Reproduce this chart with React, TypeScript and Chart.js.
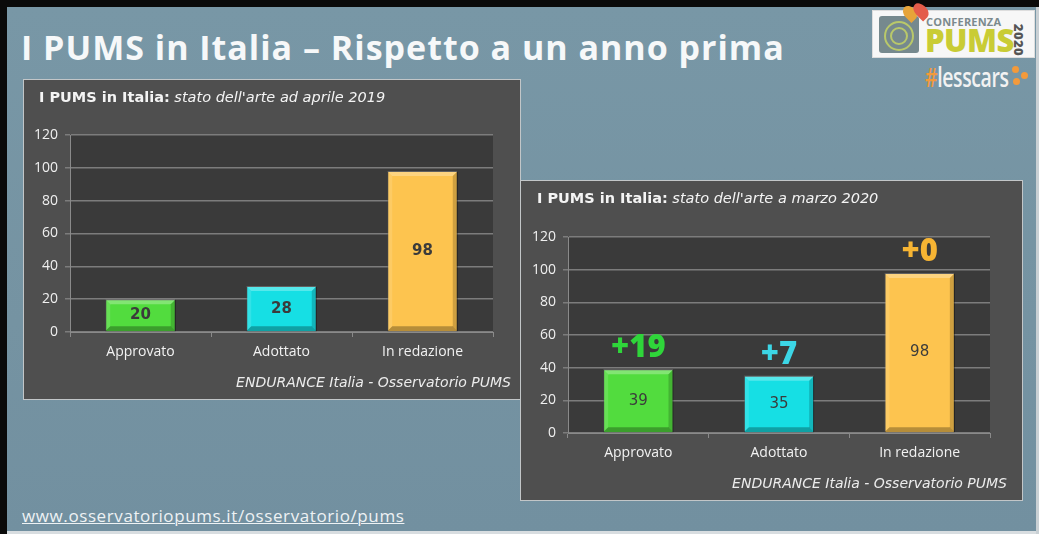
import React, { useEffect, useRef } from "react";
import { Chart, registerables } from "chart.js";

Chart.register(...registerables);

const categories = ["Approvato", "Adottato", "In redazione"];
const values2019 = [20, 28, 98];
const values2020 = [39, 35, 98];
const deltas2020 = ["+19", "+7", "+0"];
const yMin = 0;
const yMax = 120;
const yStep = 20;

const barColors = ["#52dc3e", "#16dfe4", "#fdc44f"];
const deltaColors = ["#2fd53a", "#3cd6e6", "#f6b433"];

const FONT = "'Open Sans', sans-serif";
const DV = "'DejaVu Sans', sans-serif";

type Geo = {
  yWidth: number;
  xHeight: number;
  padTop: number;
  padRight: number;
};

function bevelPlugin(valueFont: string, deltas?: string[]) {
  return {
    id: "bevel",
    beforeDraw(chart: any) {
      const { ctx, chartArea } = chart;
      ctx.save();
      ctx.fillStyle = "#3a3a3a";
      ctx.fillRect(chartArea.left, chartArea.top, chartArea.right - chartArea.left, chartArea.bottom - chartArea.top);
      ctx.restore();
    },
    afterDatasetsDraw(chart: any) {
      const { ctx } = chart;
      const meta = chart.getDatasetMeta(0);
      meta.data.forEach((el: any, i: number) => {
        const p = el.getProps(["x", "y", "base", "width"], true);
        const l = p.x - p.width / 2;
        const r = p.x + p.width / 2;
        const t = p.y;
        const b = p.base;
        const s = 5;
        ctx.save();
        ctx.fillStyle = "rgba(255,255,255,0.28)";
        ctx.beginPath();
        ctx.moveTo(l, t);
        ctx.lineTo(r, t);
        ctx.lineTo(r - s, t + s);
        ctx.lineTo(l + s, t + s);
        ctx.closePath();
        ctx.fill();
        ctx.fillStyle = "rgba(255,255,255,0.12)";
        ctx.beginPath();
        ctx.moveTo(l, t);
        ctx.lineTo(l + s, t + s);
        ctx.lineTo(l + s, b - s);
        ctx.lineTo(l, b);
        ctx.closePath();
        ctx.fill();
        ctx.fillStyle = "rgba(0,0,0,0.18)";
        ctx.beginPath();
        ctx.moveTo(r, t);
        ctx.lineTo(r - s, t + s);
        ctx.lineTo(r - s, b - s);
        ctx.lineTo(r, b);
        ctx.closePath();
        ctx.fill();
        ctx.fillStyle = "rgba(0,0,0,0.28)";
        ctx.beginPath();
        ctx.moveTo(l, b);
        ctx.lineTo(l + s, b - s);
        ctx.lineTo(r - s, b - s);
        ctx.lineTo(r, b);
        ctx.closePath();
        ctx.fill();
        ctx.fillStyle = "#3b3b3b";
        ctx.font = valueFont;
        ctx.textAlign = "center";
        ctx.textBaseline = "middle";
        const v = chart.data.datasets[0].data[i];
        ctx.fillText(String(v), p.x, (t + b) / 2);
        if (deltas) {
          ctx.fillStyle = deltaColors[i];
          ctx.font = `800 31px ${FONT}`;
          ctx.fillText(deltas[i], p.x, t - 21);
        }
        ctx.restore();
      });
    },
  };
}

function makeChart(canvas: HTMLCanvasElement, values: number[], geo: Geo, valueFont: string, deltas?: string[]) {
  return new Chart(canvas, {
    type: "bar",
    data: {
      labels: categories,
      datasets: [
        {
          data: values,
          backgroundColor: barColors,
          borderColor: "rgba(0,0,0,0.35)",
          borderWidth: 1,
          categoryPercentage: 1,
          barPercentage: 0.5,
        },
      ],
    },
    options: {
      responsive: false,
      animation: false,
      layout: { padding: { top: geo.padTop, right: geo.padRight, left: 0, bottom: 0 } },
      plugins: { legend: { display: false }, tooltip: { enabled: false }, title: { display: false } },
      scales: {
        x: {
          grid: { drawOnChartArea: false, drawTicks: true, tickLength: 5, color: "#8a8a8a" },
          border: { display: true, color: "#8a8a8a" },
          ticks: { color: "#f2f2f2", font: { family: FONT, size: 14 }, padding: 7 },
          afterFit: (s: any) => {
            s.height = geo.xHeight;
          },
        },
        y: {
          min: yMin,
          max: yMax,
          ticks: { stepSize: yStep, color: "#f0f0f0", font: { family: FONT, size: 14 }, padding: 7 },
          grid: { color: "#7c7c7c", tickLength: 5, lineWidth: 1.5 },
          border: { display: true, color: "#8a8a8a" },
          afterFit: (s: any) => {
            s.width = geo.yWidth;
          },
        },
      },
    },
    plugins: [bevelPlugin(valueFont, deltas)],
  });
}

const abs = (l: number, t: number, w?: number, h?: number): React.CSSProperties => ({
  position: "absolute",
  left: l,
  top: t,
  width: w,
  height: h,
});

export default function App() {
  const c1 = useRef<HTMLCanvasElement>(null);
  const c2 = useRef<HTMLCanvasElement>(null);

  useEffect(() => {
    const ch1 = makeChart(c1.current!, values2019, { yWidth: 47, xHeight: 67, padTop: 55, padRight: 28 }, `bold 15px ${DV}`);
    const ch2 = makeChart(c2.current!, values2020, { yWidth: 47, xHeight: 67, padTop: 56, padRight: 32 }, `15px ${DV}`, deltas2020);
    return () => {
      ch1.destroy();
      ch2.destroy();
    };
  }, []);

  const panelTitle = (l: number, t: number, rest: string) => (
    <div style={{ ...abs(l, t), color: "#f4f4f4", fontFamily: DV, fontSize: 14.5, whiteSpace: "nowrap", lineHeight: "20px" }}>
      <b>I PUMS in Italia:</b> <i>{rest}</i>
    </div>
  );
  const source = (r: number, t: number) => (
    <div style={{ position: "absolute", right: 1039 - r, top: t, color: "#ececec", fontFamily: DV, fontSize: 14, fontStyle: "italic", whiteSpace: "nowrap", lineHeight: "20px" }}>
      ENDURANCE Italia - Osservatorio PUMS
    </div>
  );

  return (
    <div style={{ ...abs(0, 0, 1039, 534), background: "#0a0a0a", overflow: "hidden", fontFamily: FONT }}>
      <div style={{ ...abs(7, 7, 1029, 525), background: "linear-gradient(180deg, #7897a6 0%, #7593a2 60%, #7290a0 100%)" }} />
      <div style={{ ...abs(7, 531, 1032, 3), background: "#d8dde0" }} />
      <div style={{ ...abs(1036, 7, 3, 527), background: "#c9d0d4" }} />

      <div style={{ ...abs(21, 24), color: "#f6f8f9", fontSize: 34, fontWeight: 700, whiteSpace: "nowrap", lineHeight: "46px", letterSpacing: 1.0 }}>
        I PUMS in Italia – Rispetto a un anno prima
      </div>

      <div style={{ ...abs(872, 10, 163, 48), background: "#f7f7f7", border: "1px solid #ddd", boxSizing: "border-box" }}>
        <div style={{ ...abs(6, 5, 40, 37), background: "#76898e", borderRadius: 3 }}>
          <div style={{ ...abs(5, 5, 26, 26), border: "2px solid #b9c86a", borderRadius: "50%" }} />
          <div style={{ ...abs(11, 11, 14, 14), border: "2px solid #b9c86a", borderRadius: "50%" }} />
        </div>
        <div style={{ ...abs(53, 5), fontSize: 11, color: "#7c8a8e", fontWeight: 700, letterSpacing: 0.2, lineHeight: "12px" }}>CONFERENZA</div>
        <div style={{ ...abs(52, 11), fontSize: 31, color: "#c9cc35", fontWeight: 800, lineHeight: "36px", letterSpacing: -0.5 }}>PUMS</div>
        <div style={{ ...abs(130, 22), fontSize: 13, color: "#555", fontWeight: 800, transform: "rotate(90deg)", lineHeight: "14px", letterSpacing: 0.5 }}>2020</div>
        <div style={{ ...abs(31, -6, 12, 16), background: "#e7a43a", borderRadius: "50% 50% 50% 0", transform: "rotate(-45deg)" }} />
        <div style={{ ...abs(42, -9, 12, 18), background: "#e45c4a", borderRadius: "50% 50% 50% 0", transform: "rotate(-45deg)" }} />
      </div>
      <div style={{ ...abs(925, 60), fontSize: 27, fontWeight: 600, color: "#f2f2f2", lineHeight: "34px", letterSpacing: -0.5, transform: "scaleX(0.72)", transformOrigin: "left" }}>
        <span style={{ color: "#f39a3b" }}>#</span>lesscars
      </div>
      <div style={{ ...abs(1012, 66, 7, 7), background: "#f39a3b", borderRadius: "50%" }} />
      <div style={{ ...abs(1021, 72, 7, 7), background: "#f39a3b", borderRadius: "50%" }} />
      <div style={{ ...abs(1013, 78, 7, 7), background: "#f39a3b", borderRadius: "50%" }} />

      <div style={{ ...abs(23, 79, 498, 321), background: "#4f4f4f", border: "1px solid #c2c6c8", boxSizing: "border-box" }} />
      <canvas ref={c1} width={498} height={319} style={abs(23, 80, 498, 319)} />
      {panelTitle(39, 87, "stato dell'arte ad aprile 2019")}
      {source(511, 372)}

      <div style={{ ...abs(520, 180, 503, 321), background: "#4f4f4f", border: "1px solid #c2c6c8", boxSizing: "border-box" }} />
      <canvas ref={c2} width={501} height={319} style={abs(521, 181, 501, 319)} />
      {panelTitle(537, 188, "stato dell'arte a marzo 2020")}
      {source(1007, 473)}

      <div style={{ ...abs(22, 505), color: "#eef2f4", fontSize: 17, textDecoration: "underline", textDecorationThickness: 1, whiteSpace: "nowrap", lineHeight: "22px", letterSpacing: 0.6 }}>
        www.osservatoriopums.it/osservatorio/pums
      </div>
    </div>
  );
}
